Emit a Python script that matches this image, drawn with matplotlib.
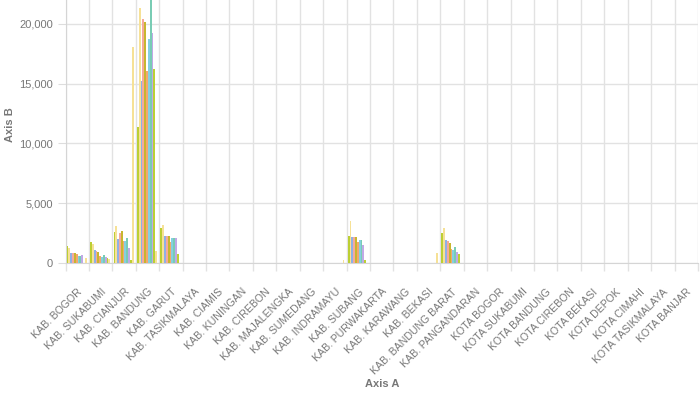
import matplotlib.pyplot as plt
import numpy as np

plt.rcParams['font.family'] = ['Liberation Sans', 'DejaVu Sans']

categories = ['KAB. BOGOR', 'KAB. SUKABUMI', 'KAB. CIANJUR', 'KAB. BANDUNG', 'KAB. GARUT',
              'KAB. TASIKMALAYA', 'KAB. CIAMIS', 'KAB. KUNINGAN', 'KAB. CIREBON',
              'KAB. MAJALENGKA', 'KAB. SUMEDANG', 'KAB. INDRAMAYU', 'KAB. SUBANG',
              'KAB. PURWAKARTA', 'KAB. KARAWANG', 'KAB. BEKASI', 'KAB. BANDUNG BARAT',
              'KAB. PANGANDARAN', 'KOTA BOGOR', 'KOTA SUKABUMI', 'KOTA BANDUNG',
              'KOTA CIREBON', 'KOTA BEKASI', 'KOTA DEPOK', 'KOTA CIMAHI',
              'KOTA TASIKMALAYA', 'KOTA BANJAR']

# one list per series, 27 values each (same order as categories)
s1 = [1420, 1720, 2570, 11400, 2950, 0, 0, 0, 0, 0, 0, 0, 2260, 0, 0, 0, 2540, 0, 0, 0, 0, 0, 0, 0, 0, 0, 0]
s2 = [1230, 1560, 3100, 21300, 3180, 0, 0, 0, 0, 0, 0, 0, 3540, 0, 0, 0, 2950, 0, 0, 0, 0, 0, 0, 0, 0, 0, 0]
s3 = [810, 1090, 2000, 15200, 2260, 0, 0, 0, 0, 0, 0, 0, 2150, 0, 0, 0, 1920, 0, 0, 0, 0, 0, 0, 0, 0, 0, 0]
s4 = [850, 1000, 2480, 20400, 2260, 0, 0, 0, 0, 0, 0, 0, 2150, 0, 0, 0, 1860, 0, 0, 0, 0, 0, 0, 0, 0, 0, 0]
s5 = [850, 950, 2670, 20200, 2260, 0, 0, 0, 0, 0, 0, 0, 2200, 0, 0, 0, 1650, 0, 0, 0, 0, 0, 0, 0, 0, 0, 0]
s6 = [750, 590, 1880, 16100, 1730, 0, 0, 0, 0, 0, 0, 0, 1780, 0, 0, 0, 1170, 0, 0, 0, 0, 0, 0, 0, 0, 0, 0]
s7 = [610, 500, 1860, 18700, 2120, 0, 0, 0, 0, 0, 0, 0, 1920, 0, 0, 0, 1090, 0, 0, 0, 0, 0, 0, 0, 0, 0, 0]
s8 = [610, 640, 2080, 23000, 2120, 0, 0, 0, 0, 0, 0, 0, 1920, 0, 0, 0, 1360, 0, 0, 0, 0, 0, 0, 0, 0, 0, 0]
s9 = [630, 530, 1260, 19200, 2070, 0, 0, 0, 0, 0, 0, 0, 1500, 0, 0, 0, 920, 0, 0, 0, 0, 0, 0, 0, 0, 0, 0]
s10 = [0, 390, 250, 16200, 740, 0, 0, 0, 0, 0, 0, 0, 250, 0, 0, 0, 750, 0, 0, 0, 0, 0, 0, 0, 0, 0, 0]
s11 = [420, 320, 18050, 980, 0, 0, 0, 0, 0, 0, 0, 250, 0, 0, 0, 860, 0, 0, 0, 0, 0, 0, 0, 0, 0, 0, 0]

series = [s1, s2, s3, s4, s5, s6, s7, s8, s9, s10, s11]
colors = ['#bccf34', '#f6e196', '#8fb0e6', '#f4aa9c', '#c8b62e', '#f3a76e',
          '#84d0e0', '#79ccb4', '#c0a9e6', '#bccf34', '#f6e196']

fig = plt.figure(figsize=(7, 4), dpi=100)
ax = fig.add_axes([65.5 / 700, 1 - 263 / 400, 632.5 / 700, 263 / 400])

x = np.arange(len(categories))
w = 0.078
for k, vals in enumerate(series):
    ax.bar(x + 0.05 + k * w, vals, width=w, align='edge', color=colors[k],
           linewidth=0, zorder=3)

ax.set_xlim(0, len(categories))
ax.set_ylim(0, 22000)

grey = '#777777'
ax.set_xticks(x + 0.5)
ax.set_xticklabels(categories, rotation=45, ha='right', rotation_mode='anchor',
                   fontsize=7.6, color=grey)
ax.set_xticks(np.arange(len(categories) + 1), minor=True)
ax.tick_params(axis='x', which='major', length=0, pad=17)
ax.tick_params(axis='x', which='minor', length=6, color='#e2e2e2', width=1)
ax.set_yticks([0, 5000, 10000, 15000, 20000])
ax.set_yticklabels(['0', '5,000', '10,000', '15,000', '20,000'], fontsize=8, color=grey)
ax.tick_params(axis='y', length=6, color='#dddddd', pad=3)

ax.grid(axis='y', color='#e2e2e2', linewidth=1, zorder=0)
ax.grid(axis='x', which='minor', color='#e2e2e2', linewidth=1, zorder=0)
for s in ['top', 'right']:
    ax.spines[s].set_visible(False)
ax.spines['left'].set_color('#d5d5d5')
ax.spines['bottom'].set_color('#d5d5d5')

fig.text(382 / 700, 1 - 384 / 400, 'Axis A', ha='center', va='center',
         fontsize=8, fontweight='bold', color=grey)
fig.text(10 / 700, 1 - 125 / 400, 'Axis B', ha='center', va='center', rotation=90,
         fontsize=8, fontweight='bold', color=grey)

fig.savefig('out.png', dpi=100)
